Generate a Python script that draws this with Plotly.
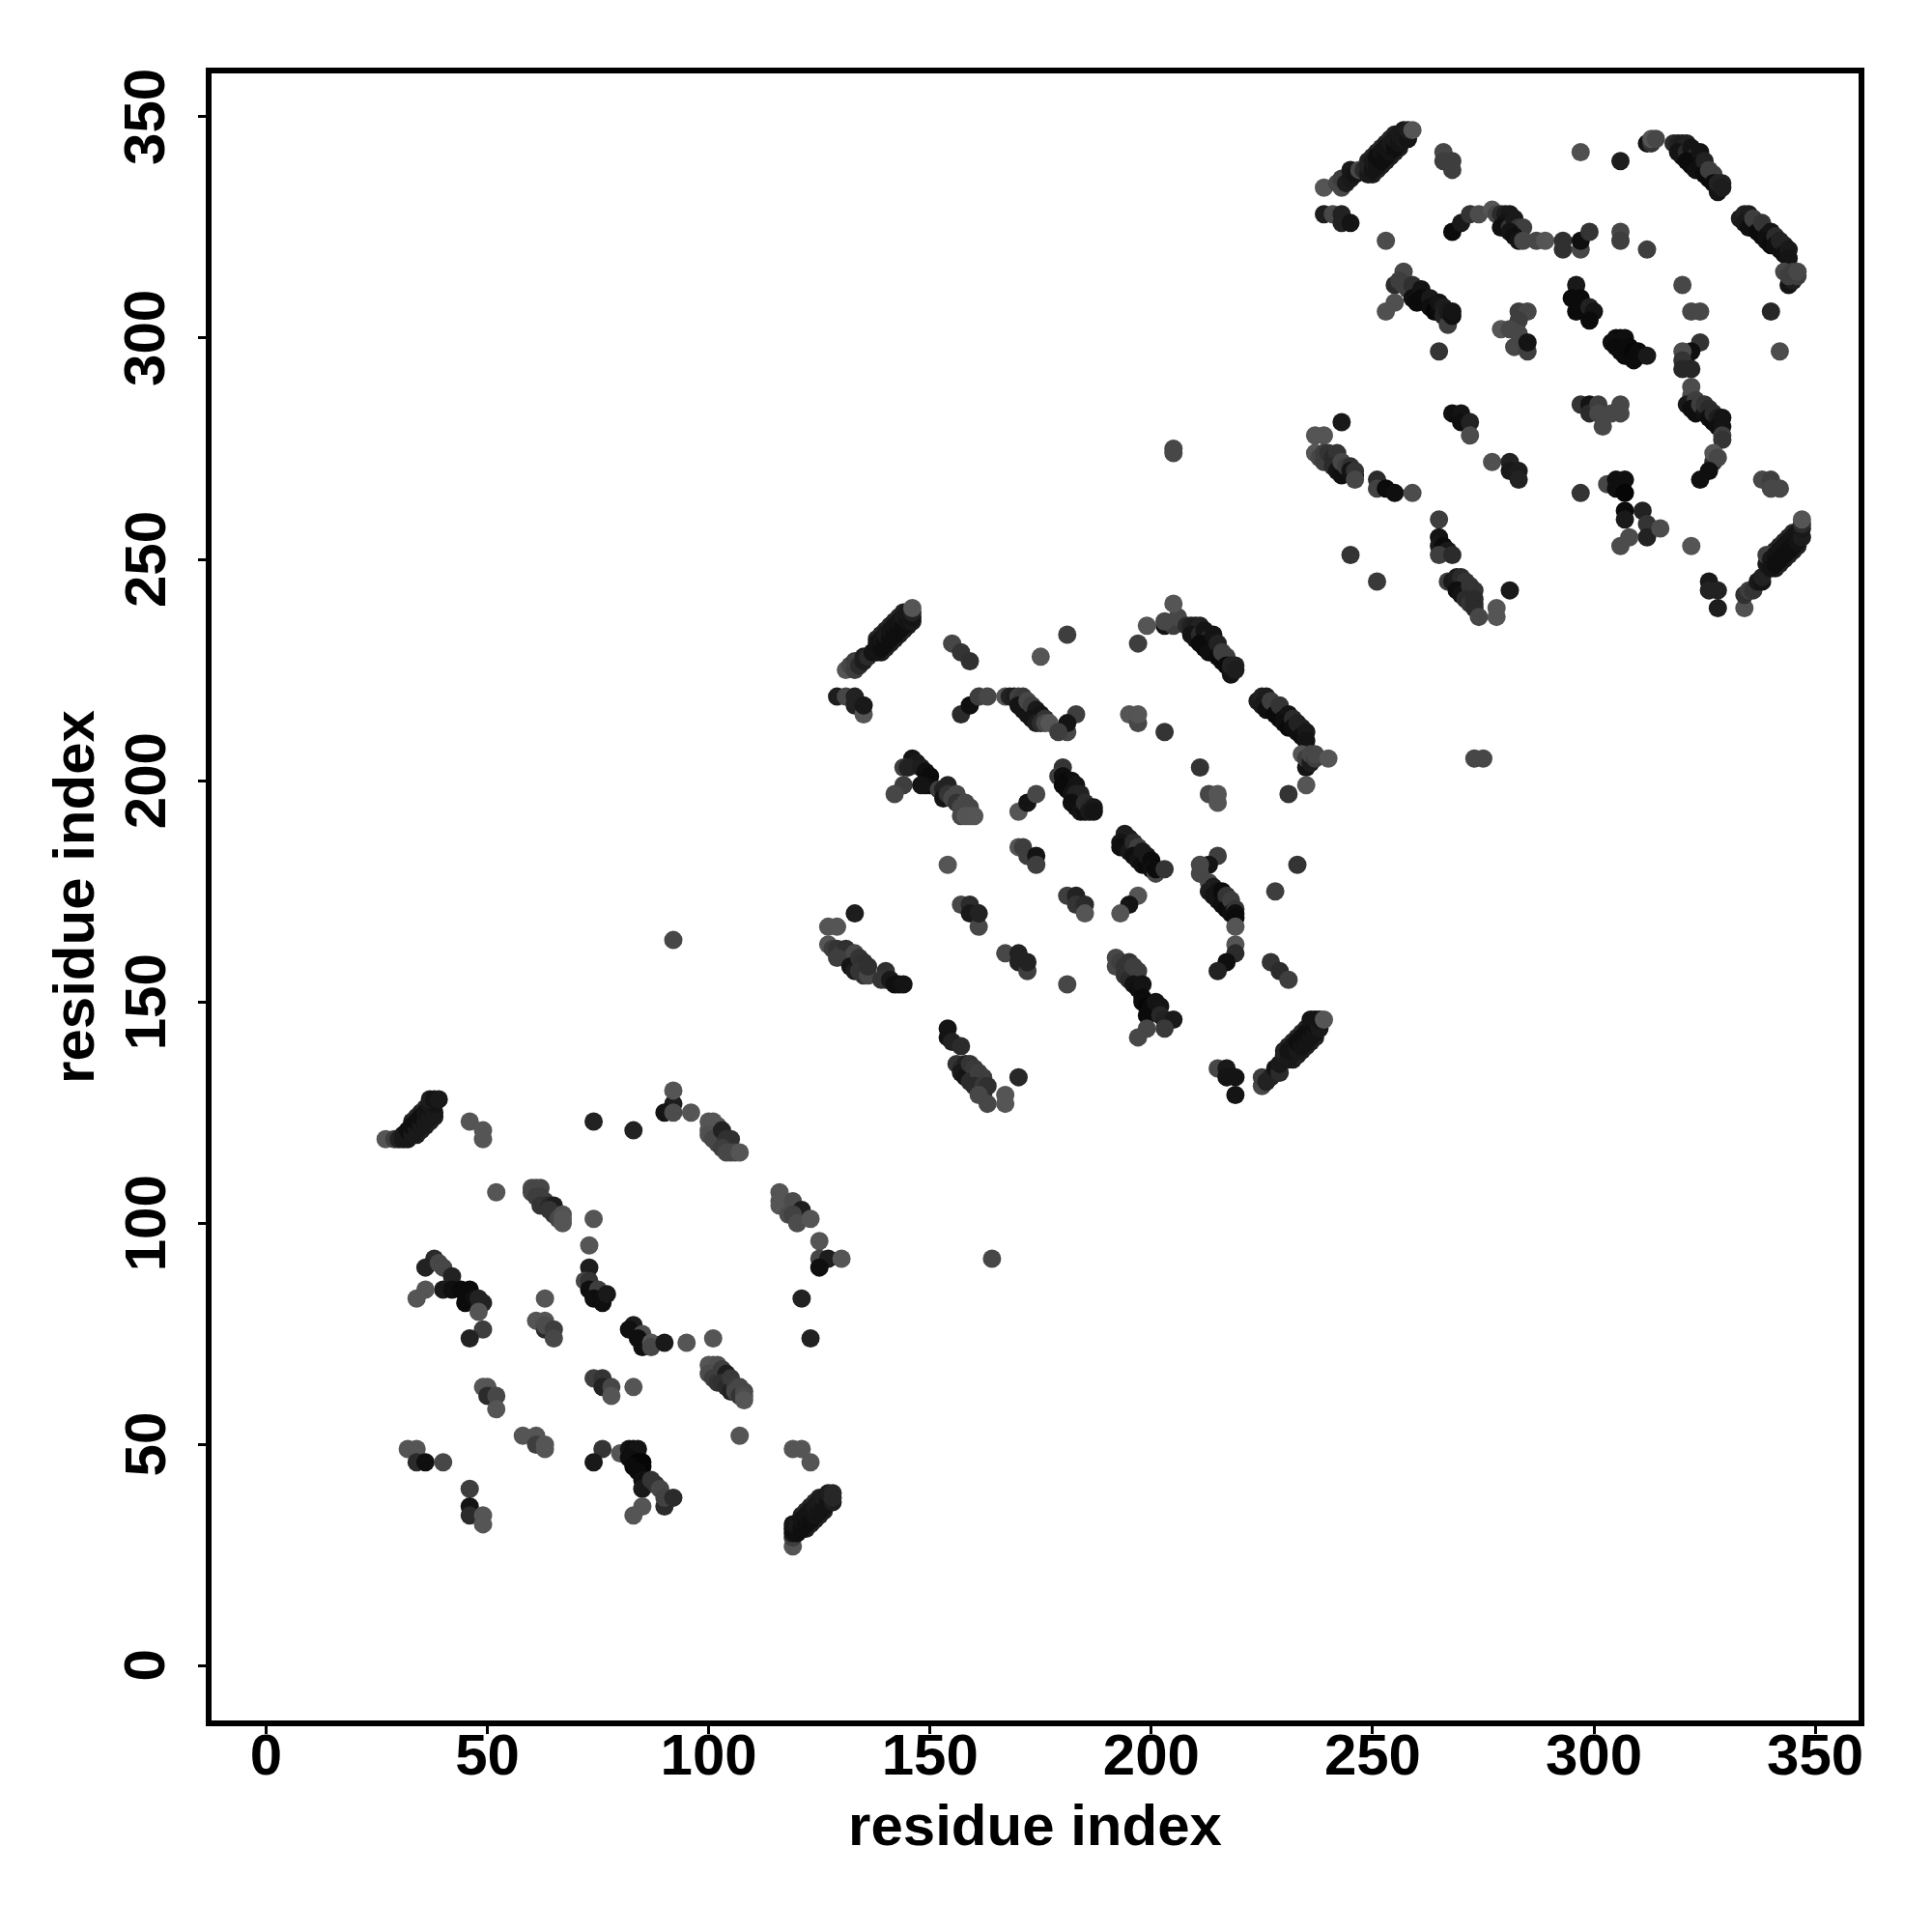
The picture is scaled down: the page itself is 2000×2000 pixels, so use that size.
import plotly.graph_objects as go

# (residue i, residue j, score) - score: low = dark, high = light
helix_edges = [
(33,123,30),(34,124,35),(35,125,30),(36,126,35),(34,120,25),(35,121,30),(36,122,25),(37,123,30),(38,124,25),
(138,232,30),(139,233,35),(140,234,30),(141,235,35),(142,236,30),(143,237,35),(144,238,30),(139,229,25),(140,230,30),(141,231,25),(142,232,30),(143,233,25),(144,234,30),(145,235,25),
(249,340,30),(250,341,35),(251,342,30),(252,343,35),(253,344,30),(254,345,35),(255,346,30),(250,337,25),(251,338,30),(252,339,25),(253,340,30),(254,341,25),(255,342,30),(256,343,25),
(121,34,30),(122,35,35),(123,36,30),(124,37,35),(125,38,30),(122,31,25),(123,32,30),(124,33,25),(125,34,30),(126,35,25),
(231,140,30),(232,141,35),(233,142,30),(234,143,35),(235,144,30),(236,145,35),(232,137,25),(233,138,30),(234,139,25),(235,140,30),(236,141,25),(237,142,30),
(340,251,30),(341,252,35),(342,253,30),(343,254,35),(344,255,30),(345,256,35),(341,248,25),(342,249,30),(343,250,25),(344,251,30),(345,252,25),(346,253,30),
]

domain_a = [
(27,119,85),(29,119,60),(30,119,30),(31,119,20),(32,119,20),(31,120,20),(32,121,10),(33,120,20),(33,122,10),(34,121,20),(34,123,10),(35,122,20),(35,124,10),(36,123,20),(36,125,15),(37,124,20),(37,126,15),(38,125,20),(37,127,20),(38,127,15),(37,128,25),(38,128,15),(39,128,20),
(46,123,85),(49,121,85),(49,119,85),(52,107,85),
(60,108,75),(61,108,70),(62,108,70),(60,107,70),(61,106,60),(62,106,60),(63,105,60),(62,104,50),(63,104,50),(64,104,40),(65,104,25),(64,103,50),(65,102,50),(66,101,70),(67,102,80),(67,101,85),(67,100,85),
(74,101,85),(73,95,85),(73,90,25),(72,87,70),(73,87,50),(73,85,10),(74,84,10),(75,85,60),(74,83,10),(76,82,10),(76,83,10),(77,84,20),
(38,92,40),(36,90,30),(39,91,70),(40,90,70),(42,88,30),(40,85,20),(36,85,85),(34,83,85),(42,85,10),(44,85,5),(46,85,5),(45,82,5),(46,83,5),(47,83,10),(48,83,30),(49,82,30),(48,80,85),(49,76,60),(46,74,30),
(63,83,85),(61,78,85),(63,78,85),(63,76,40),(63,77,75),(65,76,60),(65,74,70),
(83,77,25),(82,76,10),(85,75,75),(84,74,10),(85,72,10),(87,73,85),(87,72,70),(90,73,20),(95,73,85),(101,74,85),(121,83,30),(123,74,30),
(49,63,85),(50,63,85),(50,61,40),(52,61,70),(52,58,85),(58,52,85),(61,52,85),(61,50,60),(63,50,85),(63,49,85),
(74,65,60),(76,65,50),(76,63,30),(78,63,70),(78,61,85),(83,63,85),
(100,68,85),(101,68,85),(102,68,80),(100,66,75),(101,65,60),(102,64,50),(103,67,60),(104,66,25),(103,64,45),(104,63,40),(105,65,55),(105,62,30),(106,63,60),(106,62,70),(107,63,70),(107,61,50),(108,62,70),(108,61,75),(108,60,85),
(107,52,85),(119,49,85),(121,49,85),(123,46,85),
(116,107,85),(116,105,85),(116,104,85),(119,105,75),(121,103,25),(118,102,75),(119,102,65),(120,100,75),(123,101,85),(125,96,85),(125,92,70),(127,92,25),(130,92,85),(125,90,10),
(92,127,25),(90,125,15),(92,125,75),(92,130,85),(96,125,85),
(100,123,85),(101,123,85),(102,122,85),(100,121,85),(100,120,80),(101,119,70),(102,118,70),(103,121,30),(104,119,45),(105,119,45),(103,117,60),(104,116,70),(105,116,70),(106,116,70),(107,116,85),
(74,123,30),(83,121,30),
(32,49,85),(34,49,85),(34,46,40),(36,46,10),(40,46,70),(46,40,60),(46,36,15),(46,34,40),(49,34,85),(49,32,85),
(76,49,50),(74,46,20),(80,48,85),(82,49,15),(83,49,10),(84,49,15),(82,47,10),(84,46,0),(85,46,0),(83,45,5),(85,45,0),(84,44,5),(85,42,10),(85,40,20),(87,42,50),(88,41,50),(89,40,70),(90,36,40),(90,38,65),(92,38,40),(85,36,85),(83,34,85),
(119,27,85),(119,29,60),(119,30,15),(119,31,10),(120,30,10),(119,32,15),(120,32,20),(121,31,10),(121,33,15),(122,32,10),(122,34,15),(123,33,10),(123,35,15),(124,34,15),(124,36,20),(125,35,15),(125,37,20),(126,36,15),(126,38,25),(127,37,15),(127,39,25),(128,37,25),(128,38,35),(128,39,35),
]

domain_b = [
(131,225,85),(132,226,70),(133,225,60),(133,227,60),(134,226,40),(135,227,25),(135,228,25),(136,228,40),(137,229,15),(138,229,15),(138,231,15),(139,230,10),(139,232,15),(140,231,10),(140,233,20),(141,232,10),(141,234,15),(142,233,10),(142,235,15),(143,234,10),(143,236,15),(144,235,10),(144,237,20),(145,236,15),(145,238,20),(146,236,20),(146,237,15),(146,238,30),(146,239,85),
(155,231,70),(157,229,50),(159,227,45),(181,233,60),(175,228,85),
(129,219,25),(131,219,70),(133,219,30),(133,217,30),(135,215,85),(135,217,20),
(157,215,40),(159,217,10),(161,219,60),(163,219,70),(167,219,85),
(168,219,30),(169,219,25),(170,219,60),(171,219,55),(170,217,15),(171,216,15),(172,215,15),(172,218,70),(173,217,60),(174,216,20),(175,215,15),(173,214,15),(174,213,25),(175,213,40),(176,214,50),(176,213,70),(177,213,85),
(183,215,60),(181,211,70),(181,213,15),(179,211,60),(195,215,85),(197,213,70),(197,215,85),(203,211,50),
(203,235,15),(205,235,60),(203,236,70),(206,237,70),(205,240,85),(199,235,85),(197,231,60),
(208,235,40),(209,235,30),(210,235,25),(211,235,30),(209,233,15),(210,232,15),(211,233,40),(212,234,15),(213,232,40),(211,231,5),(212,230,5),(213,229,10),(214,233,15),(214,230,10),(215,231,30),(215,228,5),(216,227,5),(216,229,60),(217,228,60),(217,226,5),(218,224,15),(218,225,15),(218,226,30),(219,226,30),(219,225,25),
(224,218,25),(225,219,30),(226,219,25),(225,217,20),(226,216,10),(227,218,60),(228,217,60),(228,215,5),(229,214,5),(229,217,50),(230,214,10),(231,215,15),(230,213,10),(231,212,5),(232,214,40),(232,212,10),(233,211,10),(233,213,30),(234,212,30),(234,210,10),(235,211,20),(235,209,15),(234,206,85),(235,203,15),(235,205,60),(236,204,25),(236,206,70),(237,205,60),(237,206,70),(240,205,85),(235,199,85),(231,197,50),
(211,203,50),(213,197,70),(215,195,85),(215,197,85),
(144,199,60),(142,197,70),(146,205,15),(147,204,20),(144,203,60),(145,203,30),(148,203,25),(149,202,10),(150,201,5),(150,199,5),(149,199,10),(148,199,15),(152,198,60),(153,198,30),(154,199,30),(153,196,15),(154,197,50),(155,196,70),(156,197,70),(156,195,50),(157,194,70),(158,195,70),(159,194,70),(157,192,70),(158,192,85),(159,192,85),(160,192,85),
(170,193,85),(172,195,15),(174,197,70),
(180,203,50),(179,201,60),(180,201,10),(181,200,5),(182,200,10),(180,199,5),(181,198,5),(182,197,15),(183,199,15),(183,197,30),(184,197,30),(182,195,10),(183,194,10),(184,193,15),(185,193,10),(185,195,40),(186,194,35),(186,193,20),(187,194,20),(187,193,15),
(194,188,25),(195,187,25),(193,186,15),(194,185,20),(193,185,10),(195,184,20),(196,186,40),(197,185,60),(196,183,10),(197,182,15),(198,184,20),(198,181,10),(199,181,5),(199,183,20),(200,182,5),(200,180,10),(201,179,70),(201,180,5),(203,180,50),
(154,181,85),(170,185,85),(171,185,60),(172,183,60),(174,183,15),(174,181,60),
(181,174,60),(183,174,30),(183,172,50),(185,172,40),(185,170,85),(197,174,85),(195,172,15),(193,170,85),
(215,183,60),(213,181,15),(211,181,70),(211,179,70),
(213,177,70),(213,175,25),(214,176,25),(214,174,15),(215,175,15),(215,173,15),(216,175,5),(216,172,10),(217,174,50),(217,171,5),(218,173,60),(218,170,10),(219,171,50),(219,170,10),(219,169,5),(219,167,85),(219,163,85),(219,161,40),(217,159,10),(215,157,30),
(227,159,50),(229,157,40),(231,155,60),(228,175,60),(233,181,50),
(133,170,25),(127,167,85),(129,167,85),
(127,163,85),(128,162,60),(129,162,50),(130,161,60),(131,162,45),(129,160,60),(132,160,60),(133,161,70),(132,158,15),(133,157,25),(134,160,50),(135,159,45),(134,157,50),(135,156,50),(136,156,70),(136,158,45),(140,157,45),(139,155,50),(140,155,50),(141,155,20),(142,154,10),(143,154,10),(144,154,15),
(167,161,70),(170,161,30),(170,159,30),(172,157,60),(172,159,30),
(157,172,70),(159,172,40),(159,170,20),(161,167,70),(161,170,30),(181,154,70),(92,164,70),
(192,160,70),(192,158,70),(193,159,60),(194,158,50),(195,159,50),(194,156,50),(195,155,40),(196,158,60),(197,157,60),(196,154,15),(197,153,10),(198,154,15),(198,151,5),(198,150,5),(199,149,0),(199,147,5),(200,149,5),(201,150,15),(202,149,15),(202,147,35),(203,146,30),(205,146,20),(203,144,55),(199,144,70),(197,142,70),
(154,144,15),(154,142,15),(155,141,30),(157,140,40),(156,136,50),(157,135,40),(158,136,30),(157,134,20),(158,133,15),(159,136,50),(160,135,55),(159,132,40),(161,134,60),(162,133,60),(160,131,40),(161,130,40),(162,131,55),(163,131,45),(162,129,45),(161,129,70),(163,127,70),(167,129,85),(167,127,85),(170,133,35),
(225,131,70),(225,133,60),(226,132,30),(227,133,30),(228,135,15),(229,134,40),(229,136,20),(230,138,25),(230,139,30),(231,137,20),(231,139,15),(232,140,15),(233,139,20),(233,141,10),(234,140,15),(234,142,10),(235,141,15),(235,143,10),(236,142,15),(236,144,10),(236,146,15),(237,143,15),(237,145,10),(237,146,15),(238,144,20),(238,146,15),(239,146,85),
(215,135,70),(217,135,20),(217,133,15),(219,133,15),(219,129,15),(164,92,70),
]

domain_c = [
(239,334,85),(242,335,70),(243,334,70),(243,336,60),(244,335,25),(245,336,20),(245,338,20),(246,337,15),(247,338,70),(248,338,40),(249,337,20),(249,339,30),(250,338,15),(250,340,20),(251,339,15),(251,341,10),(252,340,10),(252,342,15),(253,341,10),(253,343,15),(254,342,15),(254,344,20),(255,343,10),(255,345,20),(256,344,15),(256,346,20),(257,345,20),(257,347,20),(258,345,15),(258,347,25),(259,347,85),
(266,342,70),(266,340,60),(268,340,60),(268,338,60),(297,342,80),(306,340,25),
(239,328,25),(241,328,70),(243,328,30),(243,326,30),(245,326,15),(253,322,75),
(268,324,5),(270,326,20),(272,328,50),(274,328,75),(277,329,85),
(278,328,70),(279,328,40),(280,328,25),(281,328,20),(280,326,15),(279,325,10),(281,325,50),(282,327,20),(283,325,50),(284,325,60),(281,324,15),(282,323,10),(283,322,15),(284,322,70),(287,322,70),(289,322,85),(293,322,45),(293,320,45),(297,320,70),(297,322,10),(299,324,50),
(306,324,70),(306,322,60),(312,320,60),
(312,344,15),(313,344,50),(313,345,85),(314,345,70),
(318,344,40),(319,344,30),(320,344,25),(321,344,30),(319,342,15),(320,341,15),(321,342,40),(322,343,15),(323,341,40),(321,340,5),(322,339,5),(323,338,10),(324,342,15),(324,339,10),(325,340,30),(325,337,5),(326,336,5),(326,338,60),(327,337,60),(327,335,5),(328,333,15),(328,334,15),(328,335,30),(329,335,30),(329,334,25),
(333,327,25),(334,328,30),(335,328,25),(334,326,20),(335,325,10),(336,327,60),(337,326,60),(337,324,5),(338,323,5),(338,326,50),(339,323,10),(340,324,15),(339,322,10),(340,321,5),(341,323,40),(341,321,10),(342,320,10),(342,322,30),(343,321,30),(343,319,10),(344,320,20),(344,318,15),(344,312,15),(345,313,25),(343,315,70),(344,314,60),(345,315,60),(346,314,60),(346,315,70),
(320,312,70),(322,306,70),(324,306,70),(340,306,35),(342,297,75),
(257,315,70),(255,312,40),(256,313,60),(257,312,60),(258,311,60),(259,312,45),(259,309,10),(260,308,5),(261,311,15),(261,309,5),(262,308,5),(263,309,20),(263,307,10),(264,306,0),(265,306,5),(265,308,15),(266,307,25),(266,305,30),(267,303,60),(267,306,20),(268,305,10),(268,306,15),(255,308,80),(253,306,80),(265,297,50),
(283,306,60),(285,306,70),(283,304,60),(279,302,85),(281,302,70),(283,301,70),(282,298,70),(285,297,60),(285,299,15),
(296,312,20),(295,309,5),(297,309,5),(296,306,5),(299,307,30),(300,306,15),(299,304,5),
(305,300,10),(306,300,5),(307,300,10),(304,299,10),(305,298,5),(306,297,5),(307,296,5),(308,298,5),(309,297,0),(310,296,5),(309,295,5),(310,297,5),(312,296,20),
(324,299,50),(322,297,10),(320,297,75),(320,295,50),(320,293,35),(322,293,35),
(322,289,75),(322,287,75),(321,285,20),(323,286,60),(322,284,10),(323,283,10),(324,285,60),(325,283,15),(325,285,50),(326,284,40),(326,282,10),(327,281,5),(327,283,40),(328,282,25),(328,280,10),(329,282,15),(329,280,15),(329,278,60),(329,277,50),(327,272,45),(327,274,85),(328,273,70),(326,270,10),(324,268,10),
(338,268,70),(340,268,60),(340,266,70),(342,266,70),
(297,285,50),(299,285,15),(299,283,40),(301,285,60),(301,283,70),(302,282,70),(302,280,70),(304,283,70),(306,285,70),(306,283,70),
(268,283,10),(270,283,15),(270,281,10),(272,281,30),(272,278,75),(243,281,20),
(237,278,85),(239,278,85),
(237,274,85),(238,273,70),(239,274,60),(239,272,60),(240,274,50),(241,273,40),(242,274,50),(241,271,40),(242,270,15),(243,269,10),(243,272,70),(244,271,60),(245,271,45),(245,270,15),(246,269,10),(246,270,50),(246,268,70),
(251,268,40),(251,266,65),(253,266,5),(255,265,10),(259,265,75),
(277,272,80),(281,272,30),(281,270,20),(283,270,25),(283,268,30),(297,265,50),
(303,267,70),(305,268,10),(307,268,10),(305,266,10),(307,265,0),(307,261,5),(307,259,20),(311,261,30),(312,258,50),(312,255,30),(315,257,75),(308,255,75),(306,253,75),(322,253,85),
(245,251,50),(251,245,55),(205,275,70),(205,274,70),(273,205,70),(275,205,70),
(265,259,60),(265,255,15),(265,253,20),(266,253,5),(267,252,20),(265,251,60),(268,251,40),
(267,245,60),(268,245,20),(269,246,25),(270,246,40),(271,245,50),(269,243,10),(270,242,15),(272,244,50),(273,243,50),(271,241,40),(272,240,50),(273,241,40),(273,240,40),(273,239,40),(274,237,70),(278,239,85),(278,237,85),(281,243,20),
(326,245,20),(326,243,30),(328,243,30),(328,239,25),
(334,239,80),(334,242,45),(335,243,60),(336,243,50),(337,245,20),(338,245,15),(338,246,30),(339,249,20),(339,251,60),(340,250,20),(340,248,15),(341,251,15),(341,249,10),(342,252,15),(342,250,10),(343,253,15),(343,251,10),(344,254,15),(344,252,10),(345,255,15),(345,253,10),(346,256,15),(346,254,15),(347,255,25),(347,257,20),(347,258,40),(347,259,85),
]

tick_values = [0, 50, 100, 150, 200, 250, 300, 350]
axis_label = "residue index"

contacts = helix_edges + domain_a + domain_b + domain_c
res_i = [c[0] for c in contacts]
res_j = [c[1] for c in contacts]
score = [c[2] for c in contacts]

fig = go.Figure(go.Scatter(
    x=res_i, y=res_j, mode="markers",
    marker=dict(size=19, color=score, cmin=0, cmax=85, showscale=False,
                colorscale=[[0, "#060606"], [1, "#555555"]], line=dict(width=0)),
))

TICK_FONT = dict(family="Liberation Sans", size=60, color="black", weight="bold")
TITLE_FONT = dict(family="Liberation Sans", size=60, color="black", weight="bold")
axis_style = dict(
    range=[-12.33, 359.8], tickmode="array", tickvals=tick_values,
    ticks="outside", ticklen=8, tickwidth=3, tickcolor="black",
    showline=True, linewidth=6, linecolor="black", mirror=True,
    showgrid=False, zeroline=False, tickfont=TICK_FONT,
)
fig.update_xaxes(**axis_style, ticklabelstandoff=-30,
                 title=dict(text=axis_label, font=TITLE_FONT, standoff=21))
fig.update_yaxes(**axis_style, showticklabels=False,
                 title=dict(text=axis_label, font=TITLE_FONT, standoff=90))
for v in tick_values:
    fig.add_annotation(text=str(v), xref="paper", x=0, xshift=-69, yref="y", y=v,
                       textangle=-90, showarrow=False, font=TICK_FONT,
                       xanchor="center", yanchor="middle")
fig.update_layout(width=1992, height=1992, autosize=False,
                  margin=dict(l=210.5, r=75.5, t=67.5, b=218.5, autoexpand=False),
                  paper_bgcolor="white", plot_bgcolor="white", showlegend=False)
fig.write_html("out.html")
